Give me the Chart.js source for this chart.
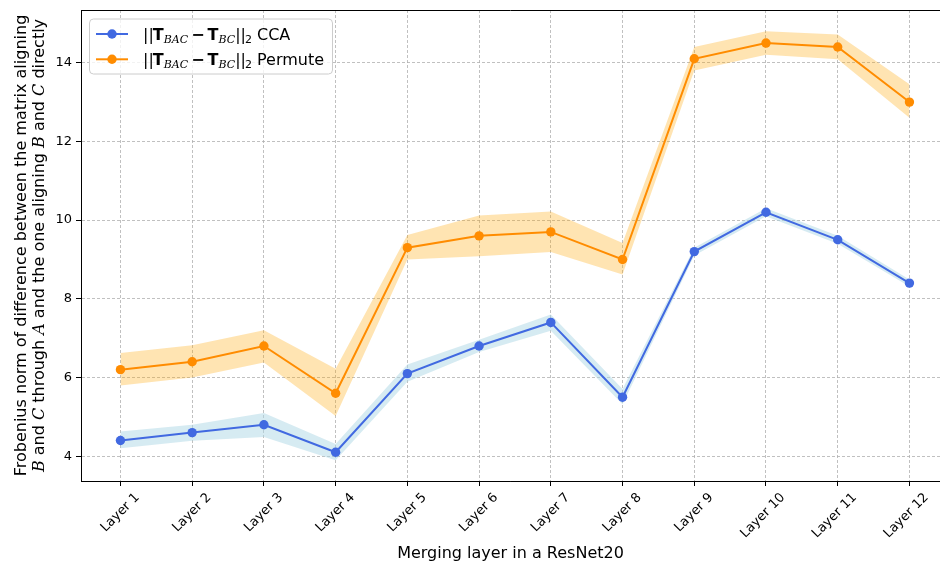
<!DOCTYPE html>
<html>
<head>
<meta charset="utf-8">
<script src="https://cdn.jsdelivr.net/npm/chart.js@4/dist/chart.umd.min.js"></script>
<style>
html,body{margin:0;padding:0;overflow:hidden;background:#fff;width:940px;height:568px}
canvas{display:block}
</style>
</head>
<body>
<canvas id="c" width="940" height="568"></canvas>
<script>
// ---- data ----
const categories = ['Layer 1','Layer 2','Layer 3','Layer 4','Layer 5','Layer 6','Layer 7','Layer 8','Layer 9','Layer 10','Layer 11','Layer 12'];
const ccaMean   = [4.4, 4.6, 4.8, 4.1, 6.1, 6.8, 7.4, 5.5, 9.2, 10.2, 9.5, 8.4];
const ccaLower  = [4.2, 4.39, 4.49, 3.9, 5.89, 6.65, 7.19, 5.32, 9.1, 10.1, 9.4, 8.31];
const ccaUpper  = [4.63, 4.8, 5.1, 4.31, 6.33, 6.96, 7.6, 5.71, 9.3, 10.3, 9.6, 8.49];
const permMean  = [6.2, 6.4, 6.8, 5.6, 9.3, 9.6, 9.7, 9.0, 14.1, 14.5, 14.4, 13.0];
const permLower = [5.8, 6.0, 6.38, 5.02, 9.0, 9.08, 9.19, 8.62, 13.8, 14.2, 14.09, 12.6];
const permUpper = [6.62, 6.82, 7.2, 6.22, 9.62, 10.12, 10.22, 9.42, 14.4, 14.8, 14.72, 13.45];
const yTicks = [4, 6, 8, 10, 12, 14];
const xLabel = 'Merging layer in a ResNet20';

const CCA_COLOR = '#4169E1';
const PERM_COLOR = '#FF8C00';
const CCA_BAND = 'rgba(173,216,230,0.5)';
const PERM_BAND = 'rgba(255,165,0,0.3)';

const pts = arr => arr.map((y, i) => ({x: i, y}));

function drawRich(ctx, parts, x, y) {
  let cx = x;
  for (const p of parts) {
    ctx.font = p.f;
    ctx.fillText(p.t, cx + (p.pre || 0), y + (p.dy || 0));
    cx += (p.pre || 0) + ctx.measureText(p.t).width + (p.post || 0);
  }
  return cx;
}
function richWidth(ctx, parts) {
  let w = 0;
  for (const p of parts) { ctx.font = p.f; w += (p.pre || 0) + ctx.measureText(p.t).width + (p.post || 0); }
  return w;
}

const SANS = '"DejaVu Sans"';
const R16 = '16px ' + SANS;
const B16 = 'bold 16px ' + SANS;
const I16 = 'italic 16px "DejaVu Serif"';
const SUBI = 'italic 11px "DejaVu Serif"';
const SUB = '11px ' + SANS;

function legendParts(name) {
  return [
    {t: '||', f: R16, post: -1},
    {t: 'T', f: B16},
    {t: 'BAC', f: SUBI, dy: 3.5},
    {t: '\u2212', f: B16, pre: 3, post: 3},
    {t: 'T', f: B16},
    {t: 'BC', f: SUBI, dy: 3.5},
    {t: '||', f: R16, post: -1},
    {t: '2', f: SUB, dy: 3.5},
    {t: ' ' + name, f: R16}
  ];
}

const decorPlugin = {
  id: 'decor',
  afterDraw(chart) {
    const ctx = chart.ctx;
    const a = chart.chartArea;
    // top spine
    ctx.save();
    ctx.strokeStyle = '#000';
    ctx.lineWidth = 1;
    ctx.beginPath();
    ctx.moveTo(a.left, a.top + 0.5);
    ctx.lineTo(a.right, a.top + 0.5);
    ctx.stroke();
    ctx.restore();

    // y axis title (two lines, rotated)
    ctx.save();
    ctx.fillStyle = '#000';
    ctx.textBaseline = 'alphabetic';
    const cy = (a.top + a.bottom) / 2;
    const line1 = [{t: 'Frobenius norm of difference between the matrix aligning', f: R16}];
    const line2 = [
      {t: 'B', f: I16}, {t: ' and ', f: R16}, {t: 'C', f: I16}, {t: ' through ', f: R16},
      {t: 'A', f: I16}, {t: ' and the one aligning ', f: R16}, {t: 'B', f: I16},
      {t: ' and ', f: R16}, {t: 'C', f: I16}, {t: ' directly', f: R16}
    ];
    [[line1, 26], [line2, 44]].forEach(([parts, bx]) => {
      ctx.save();
      ctx.translate(bx, cy);
      ctx.rotate(-Math.PI / 2);
      const w = richWidth(ctx, parts);
      drawRich(ctx, parts, -w / 2, 0);
      ctx.restore();
    });
    ctx.restore();

    // legend
    ctx.save();
    const lx = a.left + 8.5, ly = a.top + 9, lw = 243, lh = 55, r = 4;
    ctx.fillStyle = 'rgba(255,255,255,0.8)';
    ctx.strokeStyle = '#cccccc';
    ctx.lineWidth = 1;
    ctx.beginPath();
    ctx.moveTo(lx + r, ly);
    ctx.arcTo(lx + lw, ly, lx + lw, ly + lh, r);
    ctx.arcTo(lx + lw, ly + lh, lx, ly + lh, r);
    ctx.arcTo(lx, ly + lh, lx, ly, r);
    ctx.arcTo(lx, ly, lx + lw, ly, r);
    ctx.closePath();
    ctx.fill();
    ctx.stroke();
    const rows = [
      {name: 'CCA', color: CCA_COLOR, cy: a.top + 24},
      {name: 'Permute', color: PERM_COLOR, cy: a.top + 49.3}
    ];
    rows.forEach(row => {
      ctx.strokeStyle = row.color;
      ctx.lineWidth = 2;
      ctx.beginPath();
      ctx.moveTo(96, row.cy);
      ctx.lineTo(128, row.cy);
      ctx.stroke();
      ctx.fillStyle = row.color;
      ctx.beginPath();
      ctx.arc(112, row.cy, 4.7, 0, Math.PI * 2);
      ctx.fill();
      ctx.fillStyle = '#000';
      ctx.textBaseline = 'alphabetic';
      drawRich(ctx, legendParts(row.name), 143, row.cy + 5.5);
    });
    ctx.restore();
  }
};

const lineDs = (label, data, color) => ({
  label, data: pts(data), borderColor: color, backgroundColor: color,
  borderWidth: 2, pointRadius: 4.7, pointBorderWidth: 0, pointBackgroundColor: color,
  fill: false, tension: 0, order: 0
});
const bandDs = (label, data, color, fill) => ({
  label, data: pts(data), borderWidth: 0, borderColor: 'rgba(0,0,0,0)', pointRadius: 0,
  backgroundColor: color, fill, tension: 0, order: 5
});

new Chart(document.getElementById('c'), {
  type: 'line',
  data: {
    datasets: [
      lineDs('CCA', ccaMean, CCA_COLOR),
      lineDs('Permute', permMean, PERM_COLOR),
      bandDs('CCA upper', ccaUpper, CCA_BAND, '+1'),
      bandDs('CCA lower', ccaLower, CCA_BAND, false),
      bandDs('Permute upper', permUpper, PERM_BAND, '+1'),
      bandDs('Permute lower', permLower, PERM_BAND, false)
    ]
  },
  options: {
    responsive: false,
    animation: false,
    devicePixelRatio: 1,
    events: [],
    layout: {autoPadding: false, padding: {top: 10, left: 0, right: 0, bottom: 0}},
    plugins: {legend: {display: false}, tooltip: {enabled: false}},
    scales: {
      x: {
        type: 'linear', min: -0.55, max: 11.426,
        afterBuildTicks: s => { s.ticks = categories.map((_, i) => ({value: i})); },
        afterFit: s => { s.height = 87; s.paddingLeft = 0; s.paddingRight = 0; },
        ticks: {
          callback: v => categories[v],
          autoSkip: false, minRotation: 45, maxRotation: 45,
          color: '#000', font: {family: 'DejaVu Sans', size: 13},
          padding: 4, labelOffset: 17
        },
        grid: {color: '#b0b0b0', lineWidth: 0.8, tickColor: '#000', tickLength: 5, tickWidth: 1, tickBorderDash: []},
        border: {color: '#000', width: 1, dash: [3, 2]},
        title: {display: true, text: xLabel, color: '#000', font: {family: 'DejaVu Sans', size: 16}, padding: {top: 0, bottom: 5}}
      },
      y: {
        type: 'linear', min: 3.37, max: 15.34,
        afterBuildTicks: s => { s.ticks = yTicks.map(v => ({value: v})); },
        afterFit: s => { s.width = 81; s.paddingTop = 0; s.paddingBottom = 0; },
        ticks: {color: '#000', font: {family: 'DejaVu Sans', size: 13}, padding: 4},
        grid: {color: '#b0b0b0', lineWidth: 0.8, tickColor: '#000', tickLength: 5, tickWidth: 1, tickBorderDash: []},
        border: {color: '#000', width: 1, dash: [3, 2]}
      }
    }
  },
  plugins: [decorPlugin]
});
</script>
</body>
</html>
